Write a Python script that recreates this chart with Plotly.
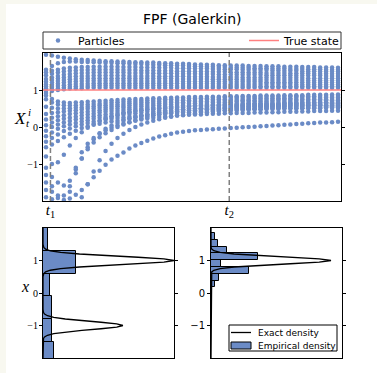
import plotly.graph_objects as go

W, H = 377, 373


def fx(px):
    return px / W


def fy(py):
    return 1 - py / H


# ---------------- data ----------------
TIME = [0.01, 0.03, 0.05, 0.07, 0.09, 0.11, 0.13, 0.15, 0.17, 0.19,
        0.21, 0.23, 0.25, 0.27, 0.29, 0.31, 0.33, 0.35, 0.37, 0.39,
        0.41, 0.43, 0.45, 0.47, 0.49, 0.51, 0.53, 0.55, 0.57, 0.59,
        0.61, 0.63, 0.65, 0.67, 0.69, 0.71, 0.73, 0.75, 0.77, 0.79,
        0.81, 0.83, 0.85, 0.87, 0.89, 0.91, 0.93, 0.95, 0.97, 0.99]
T_RANGE = [0.0, 1.0]
T1, T2 = 0.025, 0.625
TICK_LABELS_T = ["<i>t</i><sub>1</sub>", "<i>t</i><sub>2</sub>"]
TRUE_STATE = 1.0

P_U1 = [1.95, 1.93, 1.90, 1.87, 1.85, 1.83, 1.82, 1.81, 1.80, 1.79,
        1.78, 1.78, 1.77, 1.77, 1.76, 1.75, 1.75, 1.74, 1.74, 1.73,
        1.72, 1.72, 1.71, 1.71, 1.70, 1.69, 1.69, 1.68, 1.68, 1.67,
        1.67, 1.66, 1.66, 1.66, 1.65, 1.65, 1.65, 1.64, 1.64, 1.64,
        1.63, 1.63, 1.63, 1.62, 1.62, 1.62, 1.61, 1.61, 1.61, 1.60]
P_U2 = [1.55, 1.65, 1.72, 1.76, 1.77, 1.77, 1.76, 1.76, 1.75, 1.74,
        1.73, 1.73, 1.72, 1.72, 1.71, 1.70, 1.70, 1.69, 1.68, 1.68,
        1.67, 1.67, 1.66, 1.66, 1.65, 1.64, 1.64, 1.63, 1.63, 1.62,
        1.62, 1.61, 1.61, 1.60, 1.60, 1.59, 1.59, 1.59, 1.58, 1.58,
        1.58, 1.57, 1.57, 1.57, 1.56, 1.56, 1.56, 1.55, 1.55, 1.55]
P_U3 = [1.48, 1.52, 1.55, 1.58, 1.60, 1.61, 1.62, 1.62, 1.63, 1.63,
        1.63, 1.63, 1.63, 1.62, 1.62, 1.62, 1.61, 1.61, 1.61, 1.60,
        1.60, 1.60, 1.59, 1.59, 1.59, 1.58, 1.58, 1.58, 1.57, 1.57,
        1.56, 1.56, 1.56, 1.55, 1.55, 1.54, 1.54, 1.54, 1.53, 1.53,
        1.52, 1.52, 1.52, 1.51, 1.51, 1.51, 1.50, 1.50, 1.50, 1.50]
P_U4 = [1.40, 1.44, 1.47, 1.50, 1.52, 1.53, 1.54, 1.54, 1.55, 1.55,
        1.55, 1.55, 1.55, 1.54, 1.54, 1.54, 1.53, 1.53, 1.53, 1.52,
        1.52, 1.52, 1.51, 1.51, 1.51, 1.50, 1.50, 1.50, 1.49, 1.49,
        1.49, 1.48, 1.48, 1.48, 1.47, 1.47, 1.47, 1.46, 1.46, 1.46,
        1.46, 1.45, 1.45, 1.45, 1.45, 1.44, 1.44, 1.44, 1.44, 1.44]
P_U5 = [1.30, 1.34, 1.38, 1.41, 1.43, 1.45, 1.46, 1.46, 1.47, 1.47,
        1.47, 1.47, 1.47, 1.47, 1.46, 1.46, 1.46, 1.46, 1.45, 1.45,
        1.45, 1.45, 1.44, 1.44, 1.44, 1.44, 1.43, 1.43, 1.43, 1.42,
        1.42, 1.42, 1.42, 1.41, 1.41, 1.41, 1.41, 1.40, 1.40, 1.40,
        1.40, 1.40, 1.39, 1.39, 1.39, 1.39, 1.39, 1.38, 1.38, 1.38]
P_U6 = [1.22, 1.27, 1.31, 1.34, 1.36, 1.37, 1.38, 1.38, 1.39, 1.39,
        1.39, 1.39, 1.39, 1.39, 1.38, 1.38, 1.38, 1.38, 1.38, 1.37,
        1.37, 1.37, 1.37, 1.37, 1.36, 1.36, 1.36, 1.36, 1.35, 1.35,
        1.35, 1.35, 1.35, 1.34, 1.34, 1.34, 1.34, 1.34, 1.33, 1.33,
        1.33, 1.33, 1.33, 1.33, 1.32, 1.32, 1.32, 1.32, 1.32, 1.32]
P_U7 = [1.15, 1.20, 1.24, 1.27, 1.29, 1.30, 1.31, 1.31, 1.32, 1.32,
        1.32, 1.32, 1.32, 1.32, 1.32, 1.31, 1.31, 1.31, 1.31, 1.31,
        1.31, 1.31, 1.30, 1.30, 1.30, 1.30, 1.30, 1.30, 1.29, 1.29,
        1.29, 1.29, 1.29, 1.28, 1.28, 1.28, 1.28, 1.28, 1.27, 1.27,
        1.27, 1.27, 1.27, 1.27, 1.26, 1.26, 1.26, 1.26, 1.26, 1.26]
P_U8 = [1.10, 1.14, 1.17, 1.20, 1.22, 1.23, 1.24, 1.24, 1.25, 1.25,
        1.25, 1.25, 1.25, 1.25, 1.25, 1.25, 1.24, 1.24, 1.24, 1.24,
        1.24, 1.24, 1.24, 1.23, 1.23, 1.23, 1.23, 1.23, 1.23, 1.23,
        1.23, 1.22, 1.22, 1.22, 1.22, 1.22, 1.22, 1.21, 1.21, 1.21,
        1.21, 1.21, 1.21, 1.21, 1.20, 1.20, 1.20, 1.20, 1.20, 1.20]
P_U9 = [1.05, 1.08, 1.11, 1.13, 1.15, 1.16, 1.17, 1.17, 1.18, 1.18,
        1.18, 1.18, 1.18, 1.18, 1.18, 1.18, 1.18, 1.18, 1.18, 1.18,
        1.18, 1.18, 1.18, 1.17, 1.17, 1.17, 1.17, 1.17, 1.17, 1.17,
        1.17, 1.17, 1.16, 1.16, 1.16, 1.16, 1.16, 1.16, 1.16, 1.16,
        1.16, 1.16, 1.15, 1.15, 1.15, 1.15, 1.15, 1.15, 1.15, 1.15]
P_U10 = [0.98, 1.02, 1.05, 1.07, 1.09, 1.10, 1.11, 1.11, 1.12, 1.12,
         1.12, 1.12, 1.12, 1.12, 1.12, 1.12, 1.12, 1.12, 1.12, 1.12,
         1.12, 1.12, 1.11, 1.11, 1.11, 1.11, 1.11, 1.11, 1.11, 1.11,
         1.11, 1.11, 1.11, 1.11, 1.11, 1.11, 1.10, 1.10, 1.10, 1.10,
         1.10, 1.10, 1.10, 1.10, 1.10, 1.10, 1.10, 1.10, 1.10, 1.10]
P_U11 = [0.92, 0.97, 1.00, 1.02, 1.04, 1.05, 1.05, 1.06, 1.06, 1.06,
         1.06, 1.06, 1.06, 1.06, 1.06, 1.06, 1.06, 1.06, 1.06, 1.06,
         1.06, 1.06, 1.06, 1.06, 1.06, 1.06, 1.06, 1.06, 1.06, 1.06,
         1.06, 1.06, 1.06, 1.06, 1.06, 1.06, 1.06, 1.06, 1.06, 1.06,
         1.06, 1.06, 1.06, 1.06, 1.06, 1.06, 1.06, 1.06, 1.06, 1.06]
P_L1 = [0.85, 0.76, 0.69, 0.66, 0.65, 0.66, 0.67, 0.68, 0.69, 0.70,
        0.71, 0.72, 0.73, 0.74, 0.75, 0.76, 0.76, 0.77, 0.78, 0.78,
        0.79, 0.79, 0.80, 0.80, 0.81, 0.81, 0.81, 0.82, 0.82, 0.82,
        0.83, 0.83, 0.83, 0.84, 0.84, 0.84, 0.85, 0.85, 0.85, 0.85,
        0.86, 0.86, 0.86, 0.86, 0.87, 0.87, 0.87, 0.87, 0.88, 0.88]
P_L2 = [0.75, 0.66, 0.61, 0.59, 0.58, 0.59, 0.60, 0.61, 0.62, 0.63,
        0.65, 0.66, 0.67, 0.68, 0.69, 0.70, 0.71, 0.72, 0.73, 0.74,
        0.75, 0.75, 0.76, 0.76, 0.77, 0.77, 0.78, 0.78, 0.79, 0.79,
        0.80, 0.80, 0.80, 0.81, 0.81, 0.81, 0.81, 0.82, 0.82, 0.82,
        0.82, 0.83, 0.83, 0.83, 0.83, 0.83, 0.84, 0.84, 0.84, 0.84]
P_L3 = [0.55, 0.52, 0.50, 0.50, 0.51, 0.52, 0.53, 0.55, 0.56, 0.58,
        0.59, 0.60, 0.61, 0.62, 0.64, 0.65, 0.66, 0.67, 0.68, 0.69,
        0.70, 0.70, 0.71, 0.72, 0.72, 0.73, 0.73, 0.74, 0.74, 0.75,
        0.75, 0.75, 0.76, 0.76, 0.76, 0.77, 0.77, 0.77, 0.78, 0.78,
        0.78, 0.78, 0.79, 0.79, 0.79, 0.79, 0.79, 0.80, 0.80, 0.80]
P_L4 = [0.35, 0.38, 0.40, 0.42, 0.44, 0.45, 0.47, 0.49, 0.50, 0.52,
        0.53, 0.55, 0.56, 0.57, 0.59, 0.60, 0.61, 0.62, 0.63, 0.64,
        0.65, 0.66, 0.66, 0.67, 0.68, 0.68, 0.69, 0.69, 0.70, 0.70,
        0.71, 0.71, 0.71, 0.72, 0.72, 0.72, 0.73, 0.73, 0.73, 0.74,
        0.74, 0.74, 0.74, 0.75, 0.75, 0.75, 0.75, 0.75, 0.76, 0.76]
P_L5 = [0.20, 0.25, 0.29, 0.32, 0.35, 0.37, 0.39, 0.41, 0.43, 0.45,
        0.47, 0.49, 0.50, 0.52, 0.53, 0.55, 0.56, 0.57, 0.58, 0.59,
        0.60, 0.61, 0.62, 0.63, 0.63, 0.64, 0.65, 0.65, 0.66, 0.66,
        0.67, 0.67, 0.68, 0.68, 0.68, 0.69, 0.69, 0.69, 0.70, 0.70,
        0.70, 0.70, 0.71, 0.71, 0.71, 0.71, 0.71, 0.72, 0.72, 0.72]
P_L6 = [0.05, 0.12, 0.18, 0.22, 0.25, 0.28, 0.31, 0.34, 0.36, 0.39,
        0.41, 0.43, 0.44, 0.46, 0.48, 0.49, 0.50, 0.52, 0.53, 0.54,
        0.55, 0.56, 0.57, 0.58, 0.58, 0.59, 0.60, 0.60, 0.61, 0.61,
        0.62, 0.62, 0.63, 0.63, 0.64, 0.64, 0.64, 0.65, 0.65, 0.65,
        0.66, 0.66, 0.66, 0.66, 0.67, 0.67, 0.67, 0.67, 0.68, 0.68]
P_L7 = [-0.10, 0.00, 0.07, 0.12, 0.16, 0.20, 0.23, 0.26, 0.29, 0.32,
        0.34, 0.36, 0.38, 0.40, 0.42, 0.44, 0.45, 0.47, 0.48, 0.49,
        0.50, 0.51, 0.52, 0.53, 0.54, 0.55, 0.55, 0.56, 0.57, 0.57,
        0.58, 0.58, 0.59, 0.59, 0.60, 0.60, 0.60, 0.61, 0.61, 0.61,
        0.62, 0.62, 0.62, 0.62, 0.63, 0.63, 0.63, 0.63, 0.64, 0.64]
P_L8 = [-0.25, -0.15, -0.05, 0.02, 0.07, 0.11, 0.15, 0.18, 0.22, 0.25,
        0.27, 0.29, 0.31, 0.33, 0.35, 0.37, 0.39, 0.41, 0.42, 0.44,
        0.45, 0.46, 0.47, 0.48, 0.49, 0.50, 0.51, 0.51, 0.52, 0.52,
        0.53, 0.54, 0.54, 0.55, 0.55, 0.56, 0.56, 0.56, 0.57, 0.57,
        0.58, 0.58, 0.58, 0.58, 0.59, 0.59, 0.59, 0.59, 0.60, 0.60]
P_L9 = [-0.40, -0.30, -0.20, -0.11, -0.04, 0.02, 0.07, 0.11, 0.14, 0.17,
        0.20, 0.22, 0.24, 0.26, 0.28, 0.30, 0.32, 0.34, 0.36, 0.38,
        0.40, 0.41, 0.42, 0.43, 0.44, 0.45, 0.46, 0.47, 0.47, 0.48,
        0.49, 0.49, 0.50, 0.50, 0.51, 0.51, 0.52, 0.52, 0.53, 0.53,
        0.54, 0.54, 0.54, 0.55, 0.55, 0.55, 0.55, 0.56, 0.56, 0.56]
P_L10 = [-0.55, -0.47, -0.38, -0.28, -0.18, -0.10, -0.03, 0.02, 0.06, 0.09,
         0.12, 0.15, 0.17, 0.20, 0.23, 0.26, 0.28, 0.30, 0.32, 0.34,
         0.35, 0.37, 0.38, 0.39, 0.40, 0.41, 0.42, 0.43, 0.44, 0.44,
         0.45, 0.46, 0.46, 0.47, 0.47, 0.48, 0.48, 0.49, 0.49, 0.49,
         0.50, 0.50, 0.50, 0.51, 0.51, 0.51, 0.51, 0.52, 0.52, 0.52]
P_M1 = [-1.30, -1.60, -1.85, -1.85, -1.60, -1.10, -0.68, -0.45, -0.30, -0.18,
        -0.09, -0.02, 0.04, 0.09, 0.13, 0.17, 0.20, 0.23, 0.25, 0.27,
        0.28, 0.29, 0.31, 0.32, 0.33, 0.34, 0.34, 0.35, 0.36, 0.36,
        0.37, 0.37, 0.38, 0.38, 0.38, 0.39, 0.39, 0.39, 0.40, 0.40,
        0.41, 0.41, 0.41, 0.42, 0.42, 0.43, 0.43, 0.43, 0.44, 0.44]
P_M2 = [-1.50, -1.75, -1.92, -1.97, -1.93, -1.83, -1.70, -1.55, -1.36, -1.18,
        -1.02, -0.88, -0.78, -0.69, -0.58, -0.50, -0.43, -0.37, -0.31, -0.26,
        -0.22, -0.18, -0.15, -0.13, -0.11, -0.09, -0.08, -0.07, -0.06, -0.05,
        -0.04, -0.03, -0.02, -0.01, 0.00, 0.01, 0.02, 0.03, 0.04, 0.05,
        0.06, 0.07, 0.08, 0.09, 0.10, 0.11, 0.12, 0.12, 0.13, 0.14]
P_D3 = [-0.80, -1.00, -0.95, -0.75, -0.50, -0.30, -0.14, -0.02, 0.08, 0.16,
        0.23, 0.28, 0.33, 0.37, 0.40, 0.43, 0.45, 0.47, 0.49, 0.51,
        0.52, 0.53, 0.54, 0.55, 0.56, 0.57, 0.58, 0.58, 0.59, 0.59,
        0.60, 0.60, 0.61, 0.61, 0.62, 0.62, 0.62, 0.63, 0.63, 0.63,
        0.64, 0.64, 0.64, 0.65, 0.65, 0.65, 0.65, 0.66, 0.66, 0.66]
P_D4 = [-1.70, -1.95, -2.08, -2.05, -1.75, -1.25, -0.85, -0.55, -0.33, -0.17,
        -0.05, 0.04, 0.11, 0.17, 0.22, 0.27, 0.31, 0.34, 0.37, 0.40,
        0.42, 0.44, 0.46, 0.47, 0.49, 0.50, 0.51, 0.52, 0.53, 0.54,
        0.55, 0.55, 0.56, 0.57, 0.57, 0.58, 0.58, 0.59, 0.59, 0.59,
        0.60, 0.60, 0.60, 0.61, 0.61, 0.61, 0.61, 0.62, 0.62, 0.62]
P_D5 = [-1.10, -1.35, -1.50, -1.58, -1.45, -1.15, -0.85, -0.60, -0.42, -0.28,
        -0.17, -0.08, 0.00, 0.07, 0.13, 0.18, 0.23, 0.27, 0.31, 0.34,
        0.37, 0.39, 0.41, 0.43, 0.45, 0.46, 0.47, 0.48, 0.49, 0.50,
        0.51, 0.52, 0.52, 0.53, 0.54, 0.54, 0.55, 0.55, 0.56, 0.56,
        0.56, 0.57, 0.57, 0.57, 0.58, 0.58, 0.58, 0.58, 0.59, 0.59]
P_D6 = [-1.90, -2.10, -2.20, -2.25, -2.25, -2.15, -1.90, -1.55, -1.20, -0.90,
        -0.65, -0.45, -0.30, -0.18, -0.08, 0.00, 0.07, 0.12, 0.17, 0.21,
        0.25, 0.28, 0.31, 0.33, 0.35, 0.37, 0.39, 0.40, 0.41, 0.43,
        0.44, 0.45, 0.46, 0.46, 0.47, 0.48, 0.48, 0.49, 0.49, 0.50,
        0.50, 0.51, 0.51, 0.51, 0.52, 0.52, 0.52, 0.53, 0.53, 0.53]

PARTICLES = [P_U1, P_U2, P_U3, P_U4, P_U5, P_U6, P_U7, P_U8, P_U9, P_U10, P_U11,
             P_L1, P_L2, P_L3, P_L4, P_L5, P_L6, P_L7, P_L8, P_L9, P_L10,
             P_M1, P_M2, P_D3, P_D4, P_D5, P_D6]

# histogram at t1 (bin edges, densities)
H1_EDGES = [-2.2, -1.5, -0.8, -0.1, 0.6, 1.3, 2.0]
H1_HEIGHTS = [0.084, 0.071, 0.069, 0.051, 0.250, 0.040]
# histogram at t2
H2_EDGES = [-0.04, 0.17, 0.38, 0.59, 0.80, 1.01, 1.22, 1.43, 1.64, 1.85]
H2_HEIGHTS = [0.008, 0.033, 0.064, 0.293, 0.074, 0.357, 0.125, 0.056, 0.031]

# exact densities
D1_Y = [-2.0, -1.5, -1.4, -1.35, -1.3, -1.25, -1.2, -1.15, -1.1, -1.05, -1.0,
        -0.95, -0.9, -0.85, -0.8, -0.75, -0.7, -0.65, -0.6, -0.5,
        0.5, 0.6, 0.65, 0.7, 0.75, 0.8, 0.85, 0.9, 0.95, 1.0,
        1.05, 1.1, 1.15, 1.2, 1.25, 1.3, 1.35, 1.4, 1.5, 2.0]
D1_X = [0, 0, 0.004, 0.012, 0.034, 0.082, 0.170, 0.297, 0.443, 0.563, 0.610,
        0.563, 0.443, 0.297, 0.170, 0.082, 0.034, 0.012, 0.004, 0,
        0, 0.006, 0.020, 0.056, 0.135, 0.278, 0.487, 0.726, 0.923, 1.000,
        0.923, 0.726, 0.487, 0.278, 0.135, 0.056, 0.020, 0.006, 0, 0]
D2_Y = [-2.0, 0.5, 0.6, 0.65, 0.7, 0.75, 0.8, 0.85, 0.9, 0.95, 1.0,
        1.05, 1.1, 1.15, 1.2, 1.25, 1.3, 1.35, 1.4, 1.5, 2.0]
D2_X = [0, 0, 0.001, 0.0055, 0.022, 0.070, 0.176, 0.362, 0.606, 0.826, 0.916,
        0.826, 0.606, 0.362, 0.176, 0.070, 0.022, 0.0055, 0.001, 0, 0]

Y_RANGE = [-2, 2]
Y_TICKS = [-1, 0, 1]
Y_TICKTEXT = ["\u22121", "0", "1"]
DENS_RANGE = [0, 1.0]

LEG3_LABELS = ["Exact density", "Empirical density"]

# ---------------- styles ----------------
BLUE = "#6b8bc6"
RED = "#ff8080"
SERIF = "Liberation Serif"
SANS = "DejaVu Sans"

xs, ys = [], []
for p in PARTICLES:
    xs.extend(TIME)
    ys.extend(p)

fig = go.Figure()
fig.add_trace(go.Scatter(x=xs, y=ys, mode="markers", name="Particles",
                         marker=dict(size=4.5, color=BLUE, line=dict(width=0)),
                         xaxis="x", yaxis="y", legend="legend"))
fig.add_trace(go.Scatter(x=T_RANGE, y=[TRUE_STATE, TRUE_STATE], mode="lines",
                         name="True state", line=dict(color=RED, width=1.5),
                         xaxis="x", yaxis="y", legend="legend2"))


def centers(edges):
    return [(a + b) / 2 for a, b in zip(edges[:-1], edges[1:])]


def widths(edges):
    return [b - a for a, b in zip(edges[:-1], edges[1:])]


fig.add_trace(go.Bar(y=centers(H1_EDGES), x=H1_HEIGHTS, width=widths(H1_EDGES),
                     orientation="h", marker=dict(color=BLUE, line=dict(color="black", width=1)),
                     showlegend=False, xaxis="x2", yaxis="y2"))
fig.add_trace(go.Scatter(x=D1_X, y=D1_Y, mode="lines", line=dict(color="black", width=1.3),
                         showlegend=False, xaxis="x2", yaxis="y2"))

fig.add_trace(go.Scatter(x=D2_X, y=D2_Y, mode="lines", line=dict(color="black", width=1.3),
                         name=LEG3_LABELS[0], showlegend=False, xaxis="x3", yaxis="y3"))
fig.add_trace(go.Bar(y=centers(H2_EDGES), x=H2_HEIGHTS, width=widths(H2_EDGES),
                     orientation="h", marker=dict(color=BLUE, line=dict(color="black", width=1)),
                     name=LEG3_LABELS[1], showlegend=False, xaxis="x3", yaxis="y3"))

axis_common = dict(showline=True, linecolor="black", linewidth=1, showgrid=False,
                   zeroline=False)

# manual legend for the histogram panel (box, swatches, labels)
leg3_shapes = [
    dict(type="rect", xref="paper", yref="paper", x0=fx(229), x1=fx(337),
         y0=fy(351), y1=fy(325), line=dict(color="black", width=1), fillcolor="white",
         layer="above"),
    dict(type="line", xref="paper", yref="paper", x0=fx(231), x1=fx(251),
         y0=fy(332.5), y1=fy(332.5), line=dict(color="black", width=1.3), layer="above"),
    dict(type="rect", xref="paper", yref="paper", x0=fx(231), x1=fx(251),
         y0=fy(349), y1=fy(342), line=dict(color="black", width=1), fillcolor=BLUE,
         layer="above"),
]
leg3_annotations = [
    dict(text=LEG3_LABELS[0], xref="paper", yref="paper", x=fx(256), y=fy(332.5),
         showarrow=False, xanchor="left", yanchor="middle",
         font=dict(family=SANS, size=9, color="black")),
    dict(text=LEG3_LABELS[1], xref="paper", yref="paper", x=fx(256), y=fy(345.5),
         showarrow=False, xanchor="left", yanchor="middle",
         font=dict(family=SANS, size=9, color="black")),
]

fig.update_layout(
    width=W, height=H, autosize=False,
    margin=dict(l=0, r=0, t=0, b=0, pad=0),
    paper_bgcolor="#f8f8f0", plot_bgcolor="white",
    bargap=0,
    xaxis=dict(domain=[fx(43), fx(341)], range=T_RANGE, anchor="y",
               tickvals=[T1, T2], ticktext=TICK_LABELS_T, ticks="inside", ticklen=4,
               tickcolor="black", mirror="ticks", ticklabelstandoff=-5,
               tickfont=dict(family=SERIF, size=15, color="black"), **axis_common),
    yaxis=dict(domain=[fy(201), fy(53)], range=Y_RANGE, anchor="x",
               tickvals=Y_TICKS, ticktext=Y_TICKTEXT, ticks="outside", ticklen=3,
               tickcolor="black", mirror="ticks", ticklabelstandoff=-1,
               tickfont=dict(family=SERIF, size=10, color="black"), **axis_common),
    xaxis2=dict(domain=[fx(43), fx(174)], range=DENS_RANGE, anchor="y2",
                showticklabels=False, ticks="", mirror=True, **axis_common),
    yaxis2=dict(domain=[fy(358), fy(228)], range=Y_RANGE, anchor="x2",
                tickvals=Y_TICKS, ticktext=Y_TICKTEXT, ticks="outside", ticklen=3,
                tickcolor="black", mirror="ticks", ticklabelstandoff=-1,
                tickfont=dict(family=SERIF, size=10, color="black"), **axis_common),
    xaxis3=dict(domain=[fx(211), fx(342)], range=DENS_RANGE, anchor="y3",
                showticklabels=False, ticks="", mirror=True, **axis_common),
    yaxis3=dict(domain=[fy(358), fy(228)], range=Y_RANGE, anchor="x3",
                tickvals=Y_TICKS, ticktext=Y_TICKTEXT, ticks="outside", ticklen=3,
                tickcolor="black", mirror="ticks",
                tickfont=dict(family=SANS, size=10, color="black"), **axis_common),
    legend=dict(x=fx(38), y=fy(40.5), xanchor="left", yanchor="middle",
                orientation="h", bgcolor="rgba(0,0,0,0)", borderwidth=0,
                font=dict(family=SANS, size=11, color="black"), itemwidth=30),
    legend2=dict(x=fx(244), y=fy(40.5), xanchor="left", yanchor="middle",
                 orientation="h", bgcolor="rgba(0,0,0,0)", borderwidth=0,
                 font=dict(family=SANS, size=11, color="black"), itemwidth=30),
    shapes=[
        dict(type="rect", xref="paper", yref="paper", x0=fx(6), x1=1, y0=0, y1=fy(4),
             line=dict(width=0), fillcolor="white", layer="below"),
        dict(type="rect", xref="paper", yref="paper", x0=fx(43), x1=fx(341),
             y0=fy(49), y1=fy(32), line=dict(color="#333333", width=1),
             fillcolor="white", layer="below"),
        dict(type="line", xref="x", yref="y domain", x0=T1, x1=T1, y0=0, y1=1,
             line=dict(color="#808080", width=1.5, dash="5px,3px"), layer="above"),
        dict(type="line", xref="x", yref="y domain", x0=T2, x1=T2, y0=0, y1=1,
             line=dict(color="#808080", width=1.5, dash="5px,3px"), layer="above"),
    ] + leg3_shapes,
    annotations=[
        dict(text="FPF (Galerkin)", xref="paper", yref="paper", x=fx(192), y=fy(19),
             showarrow=False, font=dict(family=SANS, size=14, color="black"),
             xanchor="center", yanchor="middle"),
        dict(text="<i>X</i>", xref="paper", yref="paper", x=fx(20), y=fy(118),
             showarrow=False, font=dict(family=SERIF, size=17, color="black"),
             xanchor="center", yanchor="middle"),
        dict(text="<i>t</i>", xref="paper", yref="paper", x=fx(28.5), y=fy(122.5),
             showarrow=False, font=dict(family=SERIF, size=11, color="black"),
             xanchor="center", yanchor="middle"),
        dict(text="<i>i</i>", xref="paper", yref="paper", x=fx(29), y=fy(112.5),
             showarrow=False, font=dict(family=SERIF, size=11, color="black"),
             xanchor="center", yanchor="middle"),
        dict(text="<i>x</i>", xref="paper", yref="paper", x=fx(25), y=fy(286),
             showarrow=False, font=dict(family=SERIF, size=16, color="black"),
             xanchor="center", yanchor="middle"),
    ] + leg3_annotations,
)

fig.write_html("out.html")
